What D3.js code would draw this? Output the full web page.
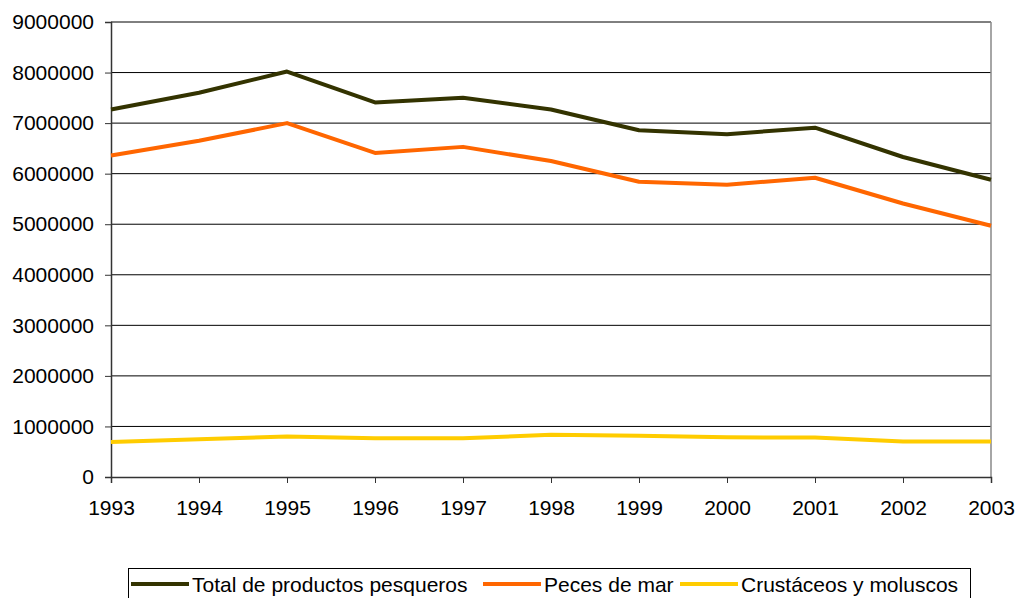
<!DOCTYPE html>
<html>
<head>
<meta charset="utf-8">
<script src="https://cdn.jsdelivr.net/npm/d3@7"></script>
<style>
  body { margin: 0; background: #fff; }
  text { font-family: "Liberation Sans", Arial, sans-serif; fill: #000; }
</style>
</head>
<body>
<div id="chart"></div>
<script>
// capturas pesqueras por año
const years = [1993, 1994, 1995, 1996, 1997, 1998, 1999, 2000, 2001, 2002, 2003];
const total = [7270000, 7600000, 8020000, 7410000, 7500000, 7270000, 6860000, 6780000, 6910000, 6330000, 5880000];
const peces = [6360000, 6650000, 7000000, 6410000, 6530000, 6250000, 5840000, 5780000, 5920000, 5410000, 4970000];
const crustaceos = [690000, 745000, 800000, 765000, 765000, 835000, 815000, 785000, 780000, 700000, 700000];
const seriesNames = ["Total de productos pesqueros", "Peces de mar", "Crustáceos y moluscos"];
const seriesColors = ["#333300", "#ff6600", "#ffcc00"];
const yTicks = [0, 1000000, 2000000, 3000000, 4000000, 5000000, 6000000, 7000000, 8000000, 9000000];

const W = 1017, H = 598;
const margin = { top: 22, right: 26, bottom: 121, left: 111 };

const svg = d3.select("#chart").append("svg")
    .attr("width", W).attr("height", H);

const x = d3.scaleLinear().domain([1993, 2003]).range([margin.left, W - margin.right]);
const y = d3.scaleLinear().domain([0, 9000000]).range([H - margin.bottom, margin.top]);

// líneas de cuadrícula
svg.append("g").selectAll("line")
    .data(yTicks.slice(1))
    .enter().append("line")
    .attr("x1", x(1993)).attr("x2", x(2003))
    .attr("y1", d => y(d)).attr("y2", d => y(d))
    .attr("stroke", "#000").attr("stroke-width", 1);

// borde derecho
svg.append("line")
    .attr("x1", x(2003)).attr("x2", x(2003))
    .attr("y1", y(9000000)).attr("y2", y(0))
    .attr("stroke", "#888").attr("stroke-width", 1.5);

const yAxis = svg.append("g")
    .attr("transform", `translate(${x(1993)},0)`)
    .call(d3.axisLeft(y).tickValues(yTicks).tickFormat(d3.format("d")).tickSize(6).tickPadding(11));
const xAxis = svg.append("g")
    .attr("transform", `translate(0,${y(0)})`)
    .call(d3.axisBottom(x).tickValues(years).tickFormat(d3.format("d")).tickSize(6).tickPadding(17));

[yAxis, xAxis].forEach(a => {
    a.select(".domain").attr("stroke", "#333").attr("stroke-width", 1.5);
    a.selectAll(".tick line").attr("stroke", "#333");
    a.selectAll("text").style("font-size", "21px")
        .style("font-family", '"Liberation Sans", Arial, sans-serif');
});

const line = d3.line().x((d, i) => x(years[i])).y(d => y(d));

[total, peces, crustaceos].forEach((s, k) => {
    svg.append("path")
        .datum(s)
        .attr("d", line)
        .attr("fill", "none")
        .attr("stroke", seriesColors[k])
        .attr("stroke-width", 4)
        .attr("stroke-linejoin", "round");
});

// leyenda
const leg = svg.append("g");
leg.append("rect")
    .attr("x", 128.5).attr("y", 568.5).attr("width", 842).attr("height", 40)
    .attr("fill", "#fff").attr("stroke", "#000").attr("stroke-width", 1);

const legX = [131, 483, 680];
seriesNames.forEach((name, k) => {
    leg.append("line")
        .attr("x1", legX[k]).attr("x2", legX[k] + 58)
        .attr("y1", 584).attr("y2", 584)
        .attr("stroke", seriesColors[k]).attr("stroke-width", 4);
    leg.append("text")
        .attr("x", legX[k] + 61).attr("y", 592)
        .style("font-size", "21px")
        .text(name);
});
</script>
</body>
</html>
